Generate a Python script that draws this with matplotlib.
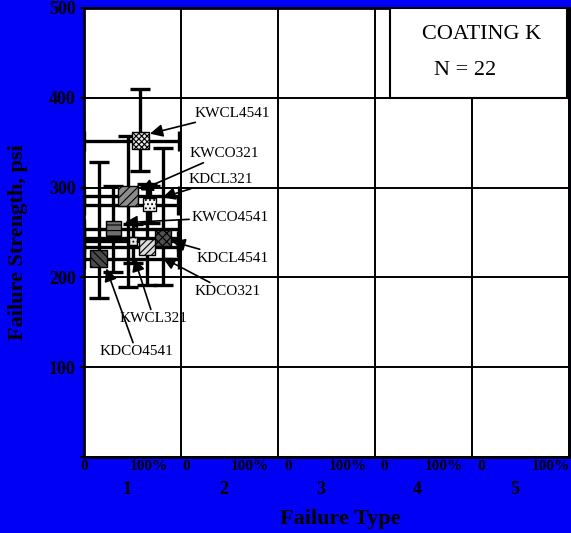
import numpy as np
import matplotlib.pyplot as plt
from matplotlib.patches import Rectangle

plt.rcParams['font.family'] = ['Liberation Serif', 'DejaVu Serif']
plt.rcParams['hatch.linewidth'] = 0.8

# specimens (failure type position, strength in psi)
names    = ["KWCL4541", "KWCO321", "KDCL321", "KWCO4541",
            "KDCL4541", "KDCO321", "KWCL321", "KDCO4541"]
fail_x   = [0.58, 0.45, 0.68, 0.30, 0.81, 0.65, 0.50, 0.15]
strength = [352, 291, 281, 254, 244, 234, 240, 221]

# error bar ends
x_lo = [0.0, 0.0, 0.0, 0.0, 0.0, 0.0, 0.0, 0.0]
x_hi = [0.98, 0.98, 0.97, 0.98, 0.98, 0.97, 0.97, 0.98]
y_lo = [319, 189, 261, 206, 191, 191, 216, 177]
y_hi = [410, 358, 302, 302, 344, 304, 259, 328]

# label positions and arrow tips
label_x = [1.53, 1.45, 1.41, 1.51, 1.53, 1.48, 0.72, 0.54]
label_y = [383, 338, 309, 267, 221, 184, 154, 117]
tip_x   = [0.68, 0.58, 0.81, 0.42, 0.91, 0.81, 0.52, 0.23]
tip_y   = [360, 297, 289, 261, 240, 222, 221, 210]

# marker look
face    = ["#e6e6e6", "#8c8c8c", "#f4f4f4", "#6e6e6e",
           "#505050", "#dcdcdc", "#e8e8e8", "#4a4a4a"]
hatches = ["xxxxxx", "////", "....", "---", "xxxx", "/////", "....", "\\\\\\\\"]
size_px = [17, 20, 13, 15, 16, 16, 8, 17]

categories = ["1", "2", "3", "4", "5"]
zero_pos   = [0.0, 1.05, 2.11, 3.09, 4.09]
full_pos   = [0.67, 1.71, 2.72, 3.71, 4.81]

fig = plt.figure(figsize=(5.71, 5.33), dpi=100, facecolor="#0000f6")
ax = fig.add_axes([84 / 571, 1 - 457 / 533, 485 / 571, 449 / 533])
ax.set_facecolor("white")

ax.set_xlim(0, 5)
ax.set_ylim(0, 500)
ax.set_xticks(range(6))
ax.set_xticklabels([])
ax.tick_params(axis="x", length=0)
ax.set_yticks([0, 100, 200, 300, 400, 500])
ax.set_yticklabels(["", "100", "200", "300", "400", "500"],
                   fontsize=13, fontweight="bold")
ax.tick_params(axis="y", direction="out", length=3, width=1.5, pad=3)
ax.grid(True, color="black", linewidth=1.4)
ax.set_axisbelow(True)
for s in ax.spines.values():
    s.set_linewidth(2)

for i in range(len(names)):
    xe = [[fail_x[i] - x_lo[i]], [x_hi[i] - fail_x[i]]]
    ye = [[strength[i] - y_lo[i]], [y_hi[i] - strength[i]]]
    ax.errorbar(fail_x[i], strength[i], xerr=xe, yerr=ye, fmt="none",
                ecolor="black", elinewidth=2.4, capsize=7, capthick=2.4,
                zorder=3)

for i in range(len(names)):
    ax.scatter(fail_x[i], strength[i], marker="s", s=(size_px[i] * 0.72) ** 2,
               facecolor=face[i], edgecolor="black", hatch=hatches[i],
               linewidth=1.0, zorder=4)

for i in range(len(names)):
    ax.annotate(names[i], xy=(tip_x[i], tip_y[i]),
                xytext=(label_x[i], label_y[i]), ha="center", va="center",
                fontsize=11, zorder=5,
                arrowprops=dict(arrowstyle="-|>", color="black", lw=1.2,
                                mutation_scale=19, shrinkA=0, shrinkB=0))

# legend-like box
ax.add_patch(Rectangle((3.15, 400), 1.83, 100, facecolor="white",
                       edgecolor="black", linewidth=1.5, zorder=3))
ax.text(4.10, 471, "COATING K", ha="center", va="center", fontsize=16, zorder=4)
ax.text(3.93, 430, "N = 22", ha="center", va="center", fontsize=16, zorder=4)

# x axis labels
tr = ax.get_xaxis_transform()
for i in range(len(categories)):
    ax.text(zero_pos[i], -0.022, "0", transform=tr, ha="center", va="center",
            fontsize=11, fontweight="bold")
    ax.text(full_pos[i], -0.022, "100%", transform=tr, ha="center",
            va="center", fontsize=11, fontweight="bold")
    ax.text(i + 0.44, -0.073, categories[i], transform=tr, ha="center",
            va="center", fontsize=13, fontweight="bold")

fig.text(340 / 571, 1 - 519 / 533, "Failure Type", ha="center", va="center",
         fontsize=16, fontweight="bold")
fig.text(18 / 571, 1 - 242 / 533, "Failure Strength, psi", ha="center",
         va="center", rotation=90, fontsize=16, fontweight="bold")

fig.savefig("out.png", dpi=100, facecolor=fig.get_facecolor())
